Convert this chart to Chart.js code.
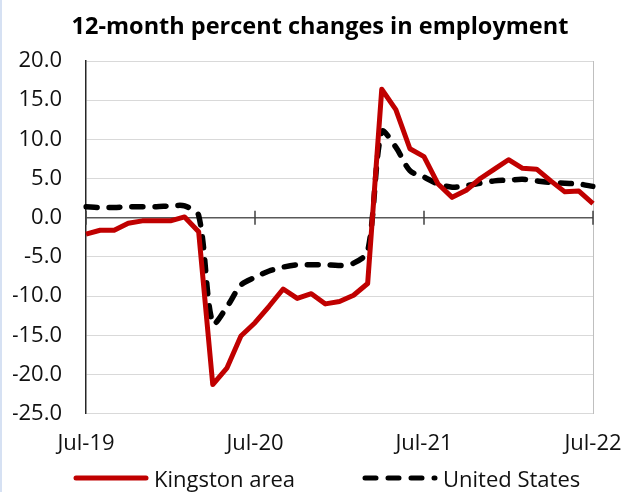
<!DOCTYPE html>
<html>
<head>
<meta charset="utf-8">
<script src="https://cdn.jsdelivr.net/npm/chart.js@4/dist/chart.umd.min.js"></script>
<style>
  html, body { margin: 0; padding: 0; background: #fff; }
  .wrap { position: relative; width: 623px; height: 492px; font-family: 'Open Sans', sans-serif; }
  .stripe { position: absolute; left: 0; top: 0; width: 2px; height: 492px; background: #d6e1f3; }
  .title { position: absolute; top: 11px; left: 0; width: 640px; line-height: 28px; text-align: center;
    font-size: 23.5px; font-weight: bold; color: #000; white-space: nowrap; }
  .legend { position: absolute; top: 465px; left: 0; width: 623px; height: 26px; font-size: 22px; color: #111; }
  .legend .item { position: absolute; top: 0; display: flex; align-items: center; height: 26px; }
  .legend svg { margin-right: 5px; }
</style>
</head>
<body>
<div class="wrap">
  <canvas id="chart"></canvas>
  <div class="stripe"></div>
  <div class="title">12-month percent changes in employment</div>
  <div class="legend" id="legend"></div>
</div>
<script>
// Monthly 12-month percent changes, Jul-19 .. Jul-22
const MONTHS = ['Jul-19', 'Aug-19', 'Sep-19', 'Oct-19', 'Nov-19', 'Dec-19', 'Jan-20', 'Feb-20', 'Mar-20',
  'Apr-20', 'May-20', 'Jun-20', 'Jul-20', 'Aug-20', 'Sep-20', 'Oct-20', 'Nov-20', 'Dec-20', 'Jan-21',
  'Feb-21', 'Mar-21', 'Apr-21', 'May-21', 'Jun-21', 'Jul-21', 'Aug-21', 'Sep-21', 'Oct-21', 'Nov-21',
  'Dec-21', 'Jan-22', 'Feb-22', 'Mar-22', 'Apr-22', 'May-22', 'Jun-22', 'Jul-22'];

const KINGSTON = [-2.1, -1.6, -1.6, -0.7, -0.4, -0.4, -0.4, 0.1, -1.8, -21.3,
  -19.2, -15.1, -13.4, -11.3, -9.1, -10.3, -9.7, -11.0, -10.7, -9.9,
  -8.4, 16.4, 13.8, 8.8, 7.8, 4.3, 2.6, 3.5, 5.0, 6.2,
  7.4, 6.3, 6.2, 4.7, 3.3, 3.4, 1.8];

const US = [1.4, 1.3, 1.3, 1.4, 1.4, 1.4, 1.5, 1.5, 0.3, -13.5,
  -11.4, -8.6, -7.6, -6.8, -6.3, -6.0, -6.0, -6.0, -6.1, -5.8,
  -4.3, 11.0, 9.0, 6.0, 5.2, 4.3, 3.9, 4.1, 4.4, 4.7,
  4.8, 4.9, 4.7, 4.5, 4.4, 4.3, 4.0];

const Y_MIN = -25;
const Y_MAX = 20;
const Y_STEP = 5;
const LABEL_EVERY = 12; // one labelled tick per year

const RED = '#c00000';
const GRID = '#d9d9d9';
const FONT = { family: 'Open Sans', size: 22 };

// short tick marks across the zero line, one per labelled month
const zeroTicks = {
  id: 'zeroTicks',
  beforeDatasetsDraw(chart) {
    const { ctx, scales } = chart;
    const y0 = scales.y.getPixelForValue(0);
    ctx.save();
    ctx.strokeStyle = '#404040';
    ctx.lineWidth = 1.5;
    MONTHS.forEach((m, i) => {
      if (i % LABEL_EVERY !== 0) return;
      const x = scales.x.getPixelForValue(i);
      ctx.beginPath();
      ctx.moveTo(x, y0 - 7);
      ctx.lineTo(x, y0 + 7);
      ctx.stroke();
    });
    ctx.restore();
  },
};

const chart = new Chart(document.getElementById('chart'), {
  type: 'line',
  data: {
    labels: MONTHS,
    datasets: [
      {
        label: 'Kingston area',
        data: KINGSTON,
        borderColor: RED,
        borderWidth: 5,
        pointRadius: 0,
        tension: 0,
        borderJoinStyle: 'round',
      },
      {
        label: 'United States',
        data: US,
        borderColor: '#000',
        borderWidth: 5.5,
        borderDash: [11, 12],
        borderCapStyle: 'round',
        pointRadius: 0,
        tension: 0.3,
      },
    ],
  },
  options: {
    responsive: true,
    maintainAspectRatio: false,
    animation: false,
    // top and bottom padding leave room for the HTML title and legend
    layout: { padding: { left: 13, right: 30, top: 61, bottom: 18 } },
    plugins: {
      legend: { display: false },
      tooltip: { enabled: false },
      title: { display: false },
    },
    scales: {
      x: {
        offset: false,
        border: { display: false },
        grid: {
          drawTicks: false,
          color: (c) => (c.index === MONTHS.length - 1 ? '#bfbfbf' : 'rgba(0,0,0,0)'),
        },
        ticks: {
          autoSkip: false,
          maxRotation: 0,
          padding: 17,
          color: '#111',
          font: FONT,
          callback: (v, i) => (i % LABEL_EVERY === 0 ? MONTHS[i] : ''),
        },
        afterFit: (s) => {
          s.paddingLeft = 0;
          s.paddingRight = 0;
        },
      },
      y: {
        min: Y_MIN,
        max: Y_MAX,
        border: { display: true, color: '#262626', width: 1.5 },
        grid: {
          drawTicks: false,
          color: (c) => (c.tick && c.tick.value === 0 ? '#595959' : GRID),
          lineWidth: (c) => (c.tick && c.tick.value === 0 ? 1.5 : 1),
        },
        ticks: {
          stepSize: Y_STEP,
          padding: 24,
          color: '#111',
          font: FONT,
          callback: (v) => v.toFixed(1),
        },
        afterFit: (s) => {
          s.width = 73;
        },
      },
    },
  },
  plugins: [zeroTicks],
});

// legend below the chart, samples drawn from dataset styles
const LEGEND_LEFT = [73, 362];
const legendEl = document.getElementById('legend');
chart.data.datasets.forEach((ds, i) => {
  const dash = ds.borderDash ? `stroke-dasharray="${ds.borderDash.join(' ')}"` : '';
  const item = document.createElement('div');
  item.className = 'item';
  item.style.left = LEGEND_LEFT[i] + 'px';
  item.innerHTML =
    `<svg width="76" height="10"><line x1="3" y1="5" x2="73" y2="5" stroke="${ds.borderColor}" ` +
    `stroke-width="5" stroke-linecap="round" ${dash}/></svg><span>${ds.label}</span>`;
  legendEl.appendChild(item);
});
</script>
</body>
</html>
